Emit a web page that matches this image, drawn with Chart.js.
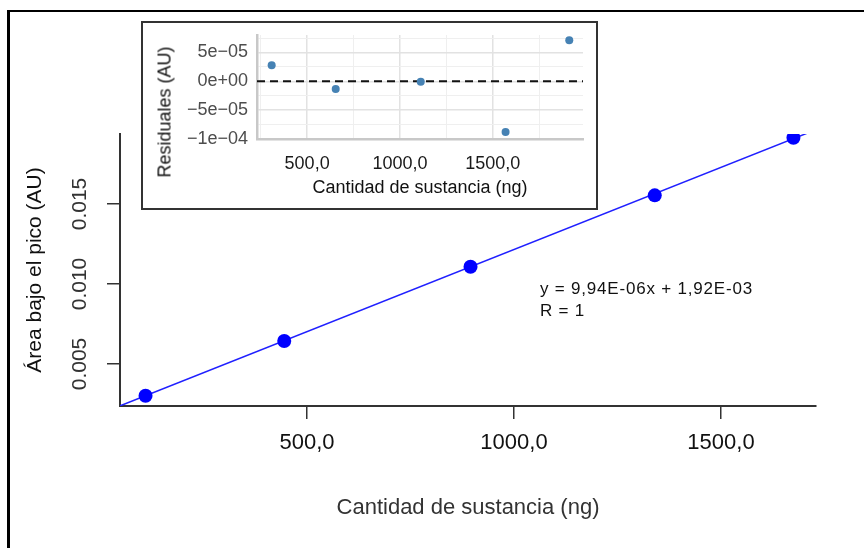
<!DOCTYPE html>
<html>
<head>
<meta charset="utf-8">
<script src="https://cdn.jsdelivr.net/npm/chart.js@4.4.0/dist/chart.umd.min.js"></script>
<style>
  body { margin: 0; background: #fff; }
  #wrap { position: relative; width: 864px; height: 548px; overflow: hidden; background: #fff; }
  #frame { position: absolute; left: 7px; top: 10px; width: 900px; height: 600px; border-top: 2px solid #000; border-left: 3px solid #000; }
  #main { position: absolute; left: 0; top: 0; }
  #insetBox { position: absolute; left: 141px; top: 21px; width: 453px; height: 185px; border: 2px solid #333; background: #fff; }
  #inset { position: absolute; left: 0; top: 0; }
  #residTitle { position: absolute; left: 22px; top: 89px; transform: translate(-50%, -50%) rotate(-90deg); font: 18px 'Liberation Sans', Arial, sans-serif; color: #111; white-space: nowrap; }
  #eq { position: absolute; left: 540px; top: 278px; font: 17px 'Liberation Sans', Arial, sans-serif; letter-spacing: 0.8px; line-height: 22px; color: #111; white-space: nowrap; }
</style>
</head>
<body>
<div id="wrap">
  <div id="frame"></div>
  <canvas id="main" width="864" height="548"></canvas>
  <div id="insetBox">
    <canvas id="inset" width="453" height="185"></canvas>
    <div id="residTitle">Residuales (AU)</div>
  </div>
  <div id="eq">y = 9,94E-06x + 1,92E-03<br>R = 1</div>
</div>
<script>
// calibration data (main plot)
const amount = [110, 445, 895, 1340, 1675];
const area = [0.00302, 0.00644, 0.01108, 0.01554, 0.01914];
const fitX = [48, 1728];
const fitY = [0.00238, 0.01963];
const xTicks = [500, 1000, 1500];
const xTickLabels = ['500,0', '1000,0', '1500,0'];
const yTicks = [0.005, 0.010, 0.015];
const yTickLabels = ['0.005', '0.010', '0.015'];

// residuals (inset)
const residX = [309, 654, 1112, 1569, 1912];
const residY = [2.8e-5, -1.35e-5, -0.1e-5, -8.85e-5, 7.15e-5];
const zeroX = [230, 1986];
const zeroY = [0, 0];
const insetXTicks = [250, 500, 750, 1000, 1250, 1500, 1750];
const insetXLabels = ['', '500,0', '', '1000,0', '', '1500,0', ''];
const insetYTicks = [-1e-4, -7.5e-5, -5e-5, -2.5e-5, 0, 2.5e-5, 5e-5, 7.5e-5];
const insetYLabels = ['\u22121e\u221204', '', '\u22125e\u221205', '', '0e+00', '', '5e\u221205', ''];

const sans = "'Liberation Sans', Arial, sans-serif";

function pts(xs, ys) {
    return xs.map((x, i) => ({ x: x, y: ys[i] }));
}

new Chart(document.getElementById('main'), {
    type: 'scatter',
    data: {
        datasets: [
            {
                data: pts(amount, area),
                backgroundColor: '#0000ff',
                borderWidth: 0,
                pointRadius: 7
            },
            {
                data: pts(fitX, fitY),
                showLine: true,
                borderColor: '#2020ff',
                borderWidth: 1.5,
                pointRadius: 0
            }
        ]
    },
    options: {
        responsive: false,
        animation: false,
        devicePixelRatio: 1,
        layout: { padding: { left: 0, right: 48, top: 134, bottom: 0 } },
        plugins: { legend: { display: false }, tooltip: { enabled: false } },
        scales: {
            x: {
                type: 'linear',
                min: 48.3,
                max: 1729.5,
                afterBuildTicks: s => { s.ticks = xTicks.map(v => ({ value: v })); },
                afterFit: s => { s.height = 142; },
                ticks: {
                    callback: (v, i) => xTickLabels[i],
                    font: { family: sans, size: 22 },
                    color: '#111',
                    padding: 11,
                    maxRotation: 0,
                    autoSkip: false
                },
                grid: { drawOnChartArea: false, drawTicks: true, tickLength: 13, color: '#333', lineWidth: 1.5 },
                border: { color: '#333', width: 2 },
                title: {
                    display: true,
                    text: 'Cantidad de sustancia (ng)',
                    font: { family: sans, size: 22 },
                    color: '#333',
                    padding: { top: 0, bottom: 27 }
                }
            },
            y: {
                type: 'linear',
                min: 0.002375,
                max: 0.019375,
                afterBuildTicks: s => { s.ticks = yTicks.map(v => ({ value: v })); },
                afterFit: s => { s.width = 120; },
                ticks: {
                    callback: (v, i) => yTickLabels[i],
                    font: { family: sans, size: 21 },
                    color: '#333',
                    padding: 1,
                    minRotation: 90,
                    maxRotation: 90,
                    crossAlign: 'center'
                },
                grid: { drawOnChartArea: false, drawTicks: true, tickLength: 13, color: '#333', lineWidth: 1.5 },
                border: { color: '#333', width: 2 },
                title: {
                    display: true,
                    text: 'Área bajo el pico (AU)',
                    font: { family: sans, size: 21 },
                    color: '#111',
                    padding: { top: 23, bottom: 0 }
                }
            }
        }
    }
});

new Chart(document.getElementById('inset'), {
    type: 'scatter',
    data: {
        datasets: [
            {
                data: pts(residX, residY),
                backgroundColor: '#4682b4',
                borderWidth: 0,
                pointRadius: 4
            },
            {
                data: pts(zeroX, zeroY),
                showLine: true,
                borderColor: '#111',
                borderWidth: 2.2,
                borderDash: [8, 5],
                pointRadius: 0
            }
        ]
    },
    options: {
        responsive: false,
        animation: false,
        devicePixelRatio: 1,
        layout: { padding: { left: 0, right: 13, top: 12, bottom: 0 } },
        plugins: { legend: { display: false }, tooltip: { enabled: false } },
        scales: {
            x: {
                type: 'linear',
                min: 230,
                max: 1986,
                afterBuildTicks: s => { s.ticks = insetXTicks.map(v => ({ value: v })); },
                afterFit: s => { s.height = 69; s.paddingLeft = 0; s.paddingRight = 0; },
                ticks: {
                    callback: (v, i) => insetXLabels[i],
                    font: { family: sans, size: 18 },
                    color: '#1a1a1a',
                    padding: 14,
                    maxRotation: 0,
                    autoSkip: false
                },
                grid: {
                    drawTicks: false,
                    color: c => insetXLabels[c.index] ? '#e2e2e2' : '#efefef',
                    lineWidth: c => insetXLabels[c.index] ? 1.5 : 1
                },
                border: { color: '#c8c8c8', width: 2.5 },
                title: {
                    display: true,
                    text: 'Cantidad de sustancia (ng)',
                    font: { family: sans, size: 18 },
                    color: '#111',
                    padding: { top: 0, bottom: 9 }
                }
            },
            y: {
                type: 'linear',
                min: -1.005e-4,
                max: 8.05e-5,
                afterBuildTicks: s => { s.ticks = insetYTicks.map(v => ({ value: v })); },
                afterFit: s => { s.width = 114; s.paddingTop = 0; s.paddingBottom = 0; },
                ticks: {
                    callback: (v, i) => insetYLabels[i],
                    font: { family: sans, size: 18 },
                    color: '#4d4d4d',
                    padding: 9,
                    autoSkip: false
                },
                grid: {
                    drawTicks: false,
                    color: c => insetYLabels[c.index] ? '#e2e2e2' : '#efefef',
                    lineWidth: c => insetYLabels[c.index] ? 1.5 : 1
                },
                border: { color: '#c8c8c8', width: 2.5 }
            }
        }
    }
});
</script>
</body>
</html>
